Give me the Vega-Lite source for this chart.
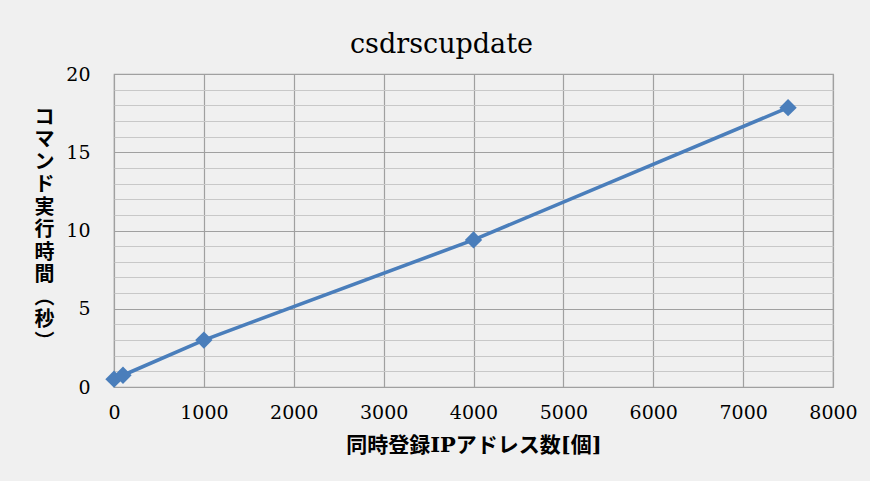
{
  "$schema": "https://vega.github.io/schema/vega-lite/v6.json",
  "autosize": "none",
  "width": 719,
  "height": 313,
  "padding": {"left": 114, "top": 74, "right": 37, "bottom": 94},
  "background": "#f0f0f0",
  "title": {
    "text": "csdrscupdate",
    "font": "DejaVu Serif",
    "fontSize": 27,
    "fontWeight": "normal",
    "color": "#000000",
    "anchor": "middle",
    "dx": -32,
    "offset": 6
  },
  "data": {
    "values": [
      {"ips": 0, "seconds": 0.5},
      {"ips": 100, "seconds": 0.75},
      {"ips": 1000, "seconds": 3.0},
      {"ips": 4000, "seconds": 9.4},
      {"ips": 7500, "seconds": 17.85}
    ]
  },
  "encoding": {
    "x": {
      "field": "ips",
      "type": "quantitative",
      "scale": {"domain": [0, 8000], "nice": false},
      "axis": {
        "title": "同時登録IPアドレス数[個]",
        "values": [0, 1000, 2000, 3000, 4000, 5000, 6000, 7000, 8000],
        "format": "d",
        "labelFlush": false,
        "labelOverlap": false,
        "gridColor": "#a0a0a0",
        "gridWidth": 1.2,
        "labelPadding": 16,
        "titlePadding": 12,
        "titleFontSize": 21
      }
    },
    "y": {
      "field": "seconds",
      "type": "quantitative",
      "scale": {"domain": [0, 20], "nice": false},
      "axis": {
        "title": ["コ", "マ", "ン", "ド", "実", "行", "時", "間", "︵", "秒", "︶"],
        "titleAngle": 0,
        "titleAlign": "center",
        "titleBaseline": "middle",
        "titleLineHeight": 22.5,
        "titleFontSize": 20,
        "titleX": -70,
        "titleY": 43,
        "values": [0, 1, 2, 3, 4, 5, 6, 7, 8, 9, 10, 11, 12, 13, 14, 15, 16, 17, 18, 19, 20],
        "labelExpr": "datum.value % 5 === 0 ? datum.label : ''",
        "labelFlush": false,
        "gridColor": {"condition": {"test": "datum.value % 5 === 0", "value": "#a0a0a0"}, "value": "#c8c8c8"},
        "gridWidth": 1.2,
        "labelPadding": 24
      }
    }
  },
  "layer": [
    {
      "mark": {"type": "line", "color": "#4a7ebb", "strokeWidth": 3.6}
    },
    {
      "mark": {"type": "point", "shape": "diamond", "filled": true, "opacity": 1, "color": "#4a7ebb", "size": 300}
    }
  ],
  "config": {
    "view": {"stroke": "#a0a0a0", "strokeWidth": 1.2},
    "axis": {
      "domain": false,
      "ticks": false,
      "labelFont": "DejaVu Serif",
      "labelFontSize": 19,
      "labelColor": "#000000",
      "titleFont": "DejaVu Serif, Noto Sans CJK JP",
      "titleFontSize": 20,
      "titleFontWeight": "bold",
      "titleColor": "#000000",
      "gridOpacity": 1
    }
  }
}
